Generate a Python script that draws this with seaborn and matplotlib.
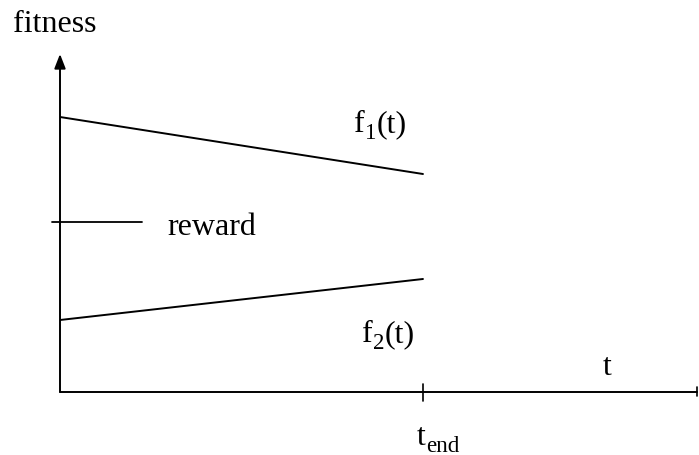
import matplotlib
matplotlib.use("Agg")
import matplotlib.pyplot as plt
import seaborn as sns
import pandas as pd

sns.set_theme(style="white")
plt.rcParams["font.family"] = ["Liberation Serif", "DejaVu Serif"]
plt.rcParams["text.color"] = "black"

# Time points: start and end of the interval
t_points = [0.0, 1.0]
t_end = 1.0
t_max = 1.755

# Fitness of the two individuals over time
f1_values = [2.75, 2.18]
f2_values = [0.72, 1.13]
reward_level = 1.70
y_max = 3.38

df = pd.DataFrame({
    "t": t_points * 2,
    "fitness": f1_values + f2_values,
    "series": ["f1"] * 2 + ["f2"] * 2,
})

W, H = 699, 456
fig = plt.figure(figsize=(W / 100, H / 100), dpi=100)
renderer = fig.canvas.get_renderer()


def px(x, y):
    """Pixel position (from top-left) to figure fraction."""
    return x / W, 1 - y / H


def label(x, y, parts, fs):
    """Draw a run of (text, is_subscript) pieces starting at baseline pixel (x, y)."""
    for text, sub in parts:
        size = fs * 0.72 if sub else fs
        yy = y + (0.22 * fs * 100 / 72 if sub else 0)
        t = fig.text(*px(x, yy), text, fontsize=size, va="baseline", ha="left")
        x += t.get_window_extent(renderer).width


ax = fig.add_axes([60 / W, (H - 393) / H, (697 - 60) / W, (393 - 55) / H])

sns.lineplot(data=df, x="t", y="fitness", units="series", estimator=None,
             color="black", linewidth=1.4, ax=ax, legend=False)

ax.set_xlim(0, t_max)
ax.set_ylim(0, y_max)
ax.axis("off")

# y axis with arrow head
ax.annotate("", xy=(0, y_max), xytext=(0, 0),
            arrowprops=dict(arrowstyle="-|>,head_length=0.72,head_width=0.28",
                            color="black", lw=1.4, shrinkA=0, shrinkB=0),
            annotation_clip=False)
# x axis
ax.plot([0, t_max], [0, 0], color="black", lw=1.4, clip_on=False)
# tick at t_end and at the end of the axis
ax.plot([t_end, t_end], [-0.09, 0.08], color="black", lw=1.2, clip_on=False)
ax.plot([t_max, t_max], [-0.04, 0.05], color="black", lw=1.2, clip_on=False)

# reward level marker
ax.plot([-0.022, 0.226], [reward_level, reward_level], color="black", lw=1.3, clip_on=False)

fs = 23
fig.text(*px(13, 32), "fitness", fontsize=fs, va="baseline", ha="left")
fig.text(*px(167, 235), "reward", fontsize=fs, va="baseline", ha="left")
label(354, 132, [("f", False), ("1", True), ("(t)", False)], fs)
label(362, 342, [("f", False), ("2", True), ("(t)", False)], fs)
fig.text(*px(603, 375), "t", fontsize=fs, va="baseline", ha="left")
label(417, 445, [("t", False), ("end", True)], fs)

fig.savefig("out.png", dpi=100)
